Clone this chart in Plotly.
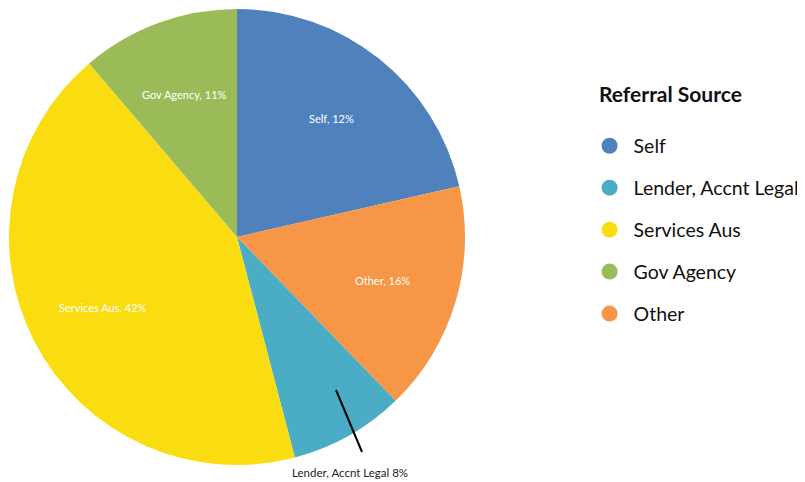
import math
import plotly.graph_objects as go

# Pie slices in drawing order (clockwise from 12 o'clock)
slice_labels = ["Self", "Other", "Lender, Accnt Legal", "Services Aus", "Gov Agency"]
slice_values = [21, 16, 8, 42, 11]
slice_text = ["Self, 12%", "Other, 16%", "", "Services Aus. 42%", "Gov Agency, 11%"]
slice_colors = ["#4F81BD", "#F79646", "#4BACC6", "#F9DD10", "#9BBB59"]

# Legend order
legend_title = "Referral Source"
legend_labels = ["Self", "Lender, Accnt Legal", "Services Aus", "Gov Agency", "Other"]
legend_colors = ["#4F81BD", "#4BACC6", "#F9DD10", "#9BBB59", "#F79646"]

outside_label = "Lender, Accnt Legal 8%"

FONT = "Lato, 'Open Sans', sans-serif"
W, H = 805, 482
# page body has an 8px margin; layout pixel positions below are in figure pixels
CX, CY, R = 229, 229, 228

fig = go.Figure()
fig.add_trace(go.Pie(
    labels=slice_labels,
    values=slice_values,
    textinfo="none",
    marker=dict(colors=slice_colors, line=dict(width=0)),
    sort=False,
    direction="clockwise",
    rotation=0,
    showlegend=False,
    hoverinfo="label+percent",
    domain=dict(x=[(CX - R) / W, (CX + R) / W], y=[1 - (CY + R) / H, 1 - (CY - R) / H]),
))

# slice labels along each slice's bisector
total = sum(slice_values)
cum = 0
for v, t in zip(slice_values, slice_text):
    mid = (cum + v / 2) / total * 2 * math.pi
    cum += v
    if not t:
        continue
    r = 0.665 * R
    px = CX + r * math.sin(mid)
    py = CY - r * math.cos(mid)
    fig.add_annotation(
        x=px / W, y=1 - py / H, xref="paper", yref="paper", text=t,
        xanchor="center", yanchor="middle",
        showarrow=False, font=dict(size=11, color="white", family=FONT),
    )

for lab, col in zip(legend_labels, legend_colors):
    fig.add_trace(go.Scatter(
        x=[None], y=[None], mode="markers", name=lab, legendgroup=lab,
        marker=dict(size=17, color=col, symbol="circle"),
    ))

fig.add_shape(
    type="line", xref="paper", yref="paper",
    x0=328 / W, y0=1 - 382 / H, x1=354 / W, y1=1 - 444 / H,
    line=dict(color="black", width=2),
)
fig.add_annotation(
    x=342 / W, y=1 - 464 / H, xref="paper", yref="paper",
    xanchor="center", yanchor="middle",
    text=outside_label, showarrow=False,
    font=dict(size=11.5, color="#222", family=FONT),
)
fig.add_annotation(
    x=589 / W, y=1 - 85 / H, xref="paper", yref="paper",
    xanchor="left", yanchor="middle",
    text="<b>" + legend_title + "</b>", showarrow=False,
    font=dict(size=21, color="#111", family=FONT),
)

fig.update_layout(
    width=W, height=H,
    margin=dict(l=0, r=0, t=0, b=0),
    paper_bgcolor="white", plot_bgcolor="white",
    xaxis=dict(visible=False), yaxis=dict(visible=False),
    font=dict(family=FONT, color="#111"),
    legend=dict(
        x=0.7175, y=0.754, xanchor="left", yanchor="top",
        font=dict(size=19.5, color="#111"),
        tracegroupgap=13.6,
        itemsizing="trace",
        itemwidth=38,
    ),
)

fig.write_html("out.html")
